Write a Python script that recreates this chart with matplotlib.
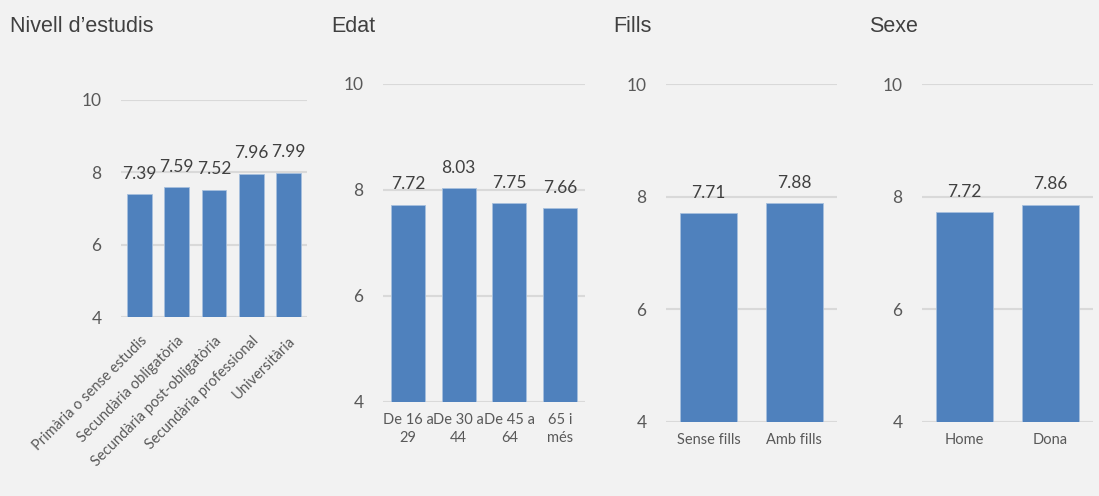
import matplotlib.pyplot as plt

# Data
estudis_labels = ['Primària o sense estudis', 'Secundària obligatòria',
                  'Secundària post-obligatòria', 'Secundària professional', 'Universitària']
estudis_values = [7.39, 7.59, 7.52, 7.96, 7.99]

edat_labels = ['De 16 a\n29', 'De 30 a\n44', 'De 45 a\n64', '65 i\nmés']
edat_values = [7.72, 8.03, 7.75, 7.66]

fills_labels = ['Sense fills', 'Amb fills']
fills_values = [7.71, 7.88]

sexe_labels = ['Home', 'Dona']
sexe_values = [7.72, 7.86]

titles = ['Nivell d\u2019estudis', 'Edat', 'Fills', 'Sexe']
yticks = [4, 6, 8, 10]

W, H = 1099, 496
bg = '#f2f2f2'
bar_color = '#4f81bd'
grid_color = '#d9d9d9'

fig = plt.figure(figsize=(W / 100, H / 100), dpi=100, facecolor=bg)

# axes boxes in pixels: left, right, top(y=10), bottom(y=4)
boxes = [(121, 307, 100, 317), (383, 585, 84, 402), (666, 837, 84, 422), (922, 1093, 84, 422)]
title_x = [10, 331, 613, 869]
panels = [(estudis_labels, estudis_values), (edat_labels, edat_values),
          (fills_labels, fills_values), (sexe_labels, sexe_values)]

for i, ((labels, values), (l, r, t, b)) in enumerate(zip(panels, boxes)):
    ax = fig.add_axes([l / W, 1 - b / H, (r - l) / W, (b - t) / H])
    ax.set_facecolor(bg)
    x = range(len(values))
    bars = ax.bar(x, values, width=0.67, color=bar_color, edgecolor='#a7c0de', linewidth=0.6, zorder=3)
    ax.set_ylim(4, 10)
    ax.set_xlim(-0.5, len(values) - 0.5)
    ax.set_yticks(yticks)
    ax.yaxis.grid(True, color=grid_color, linewidth=1.5, zorder=0)
    ax.tick_params(axis='y', length=0, pad=14, labelsize=12.5, labelcolor='#595959')
    ax.tick_params(axis='x', length=0, labelcolor='#595959')
    for s in ax.spines.values():
        s.set_visible(False)
    for lab in ax.get_yticklabels():
        lab.set_fontfamily('Lato')
    ax.set_xticks(list(x))
    if i == 0:
        ax.tick_params(axis='x', pad=12)
        ax.set_xticklabels(labels, rotation=45, ha='right', rotation_mode='anchor',
                           fontsize=10.5, fontfamily='Lato')
    else:
        ax.tick_params(axis='x', pad=8)
        ax.set_xticklabels(labels, fontsize=10.5, fontfamily='Lato', linespacing=1.35)
    for rect, v in zip(bars, values):
        ax.annotate(f'{v:.2f}', (rect.get_x() + rect.get_width() / 2, v),
                    xytext=(0, 9), textcoords='offset points', ha='center', va='bottom',
                    fontsize=12.5, color='#404040', fontfamily='Lato')
    fig.text(title_x[i] / W, 1 - 26 / H, titles[i], ha='left', va='center',
             fontsize=15.5, color='#404040', fontfamily='Liberation Sans')

fig.savefig('out.png', dpi=100, facecolor=bg)
